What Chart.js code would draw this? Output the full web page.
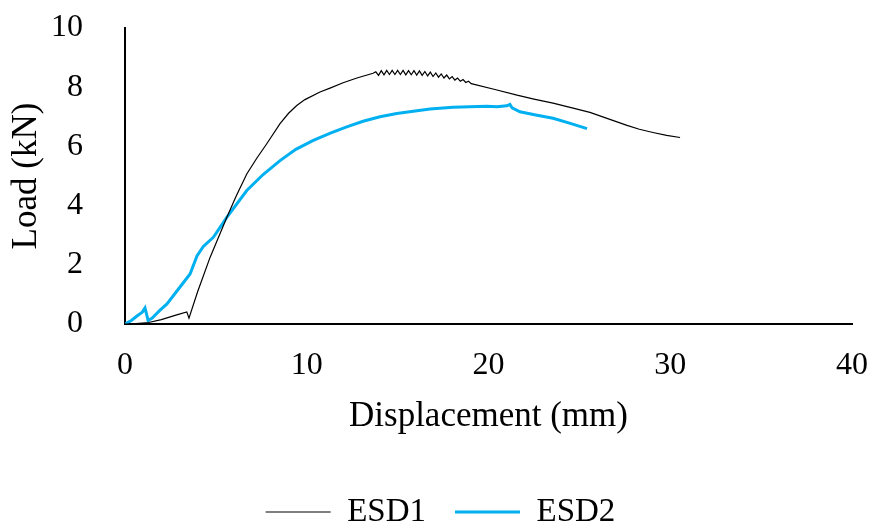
<!DOCTYPE html>
<html>
<head>
<meta charset="utf-8">
<script src="https://cdn.jsdelivr.net/npm/chart.js@4.4.0/dist/chart.umd.min.js"></script>
<style>
    html, body { margin: 0; padding: 0; background: #fff; }
    #wrap { width: 872px; height: 525px; }
</style>
</head>
<body>
<div id="wrap"><canvas id="loadChart" width="872" height="525"></canvas></div>
<script>
// Load-displacement data
const esd1X = [0, 0.6, 1.3, 2.0, 2.8, 3.4, 3.52, 4.0, 4.68, 5.6, 6.1, 6.7, 7.25, 7.8, 8.53, 9.0, 9.45, 9.9, 10.73, 11.28, 12.0, 12.76, 13.65,
    13.8, 13.95, 14.1, 14.25, 14.4, 14.55, 14.7, 14.85, 15.0, 15.15, 15.3, 15.45, 15.6, 15.75, 15.9, 16.05, 16.2, 16.35,
    16.5, 16.65, 16.8, 16.95, 17.1, 17.25, 17.4, 17.55, 17.7, 17.85, 18.0, 18.15, 18.3, 18.45, 18.6, 18.75, 18.9, 19.05,
    20.3, 21.57, 22.5, 23.55, 24.6, 25.58, 26.6, 27.62, 28.3, 29.05, 29.8, 30.54];
const esd1Y = [0, 0.01, 0.05, 0.15, 0.3, 0.41, 0.2, 1.1, 2.25, 3.6, 4.3, 5.07, 5.6, 6.09, 6.77, 7.12, 7.38, 7.58, 7.84, 7.97, 8.15, 8.31, 8.47,
    8.52, 8.40, 8.56, 8.42, 8.57, 8.43, 8.57, 8.43, 8.57, 8.43, 8.57, 8.42, 8.56, 8.42, 8.56, 8.41, 8.55, 8.40,
    8.53, 8.38, 8.51, 8.36, 8.48, 8.34, 8.45, 8.31, 8.41, 8.28, 8.36, 8.24, 8.31, 8.20, 8.26, 8.16, 8.20, 8.12,
    7.93, 7.73, 7.6, 7.46, 7.3, 7.15, 6.93, 6.71, 6.58, 6.47, 6.37, 6.3];

const esd2X = [0, 0.35, 0.66, 0.95, 1.1, 1.2, 1.27, 1.5, 1.9, 2.31, 2.9, 3.58, 3.96, 4.31, 4.86, 5.6, 6.7, 7.6, 8.53, 9.4,
    10.36, 11.3, 12.2, 13.1, 14.03, 14.95, 16.78, 18.05, 19.9, 20.47, 21.0, 21.18, 21.3, 21.73, 22.6, 23.55, 24.5, 25.42];
const esd2Y = [0, 0.12, 0.27, 0.4, 0.54, 0.3, 0.12, 0.2, 0.45, 0.68, 1.15, 1.69, 2.3, 2.62, 2.93, 3.6, 4.51, 5.05, 5.52, 5.9,
    6.2, 6.45, 6.66, 6.85, 7.0, 7.11, 7.26, 7.32, 7.36, 7.34, 7.37, 7.42, 7.3, 7.17, 7.06, 6.95, 6.78, 6.6];

const seriesNames = ['ESD1', 'ESD2'];
const xTitle = 'Displacement (mm)';
const yTitle = 'Load (kN)';

function toPoints(xs, ys) {
    return xs.map((x, i) => ({ x: x, y: ys[i] }));
}

const serif = 'Liberation Serif, Times New Roman, serif';

const ctx = document.getElementById('loadChart');
const loadChart = new Chart(ctx, {
    type: 'line',
    data: {
        datasets: [
            {
                label: seriesNames[0],
                data: toPoints(esd1X, esd1Y),
                borderColor: '#000000',
                backgroundColor: '#000000',
                borderWidth: 1.2,
                pointRadius: 0,
                tension: 0,
                fill: false
            },
            {
                label: seriesNames[1],
                data: toPoints(esd2X, esd2Y),
                borderColor: '#00B0F0',
                backgroundColor: '#00B0F0',
                borderWidth: 3,
                pointRadius: 0,
                tension: 0,
                fill: false
            }
        ]
    },
    options: {
        responsive: false,
        animation: false,
        layout: {
            padding: { left: 9, right: 0, top: 28, bottom: 0 }
        },
        plugins: {
            legend: {
                display: true,
                position: 'bottom',
                maxHeight: 58.5,
                labels: {
                    usePointStyle: true,
                    pointStyle: 'line',
                    pointStyleWidth: 65,
                    padding: 29,
                    color: '#000',
                    font: { family: serif, size: 33 }
                }
            },
            tooltip: { enabled: false }
        },
        scales: {
            x: {
                type: 'linear',
                min: 0,
                max: 40,
                grid: { display: false, drawTicks: false },
                border: { display: true, color: '#000', width: 2 },
                ticks: {
                    stepSize: 10,
                    padding: 22.8,
                    color: '#000',
                    font: { family: serif, size: 32 }
                },
                title: {
                    display: true,
                    text: xTitle,
                    color: '#000',
                    font: { family: serif, size: 35 },
                    padding: { top: -12, bottom: 28.5 }
                },
                // keep the right edge of the plot at 40 mm where the reference has it
                afterFit: function(scale) {
                    scale.paddingLeft = 0;
                    scale.paddingRight = 20;
                }
            },
            y: {
                min: 0,
                max: 10,
                grid: { display: false, drawTicks: false },
                border: { display: true, color: '#000', width: 2 },
                ticks: {
                    stepSize: 2,
                    padding: 42,
                    color: '#000',
                    font: { family: serif, size: 32 }
                },
                title: {
                    display: true,
                    text: yTitle,
                    color: '#000',
                    font: { family: serif, size: 35 },
                    padding: { top: -3, bottom: 0 }
                },
                afterFit: function(scale) {
                    scale.width = 116;
                    scale.paddingTop = 0;
                    scale.paddingBottom = 0;
                }
            }
        }
    }
});
</script>
</body>
</html>
